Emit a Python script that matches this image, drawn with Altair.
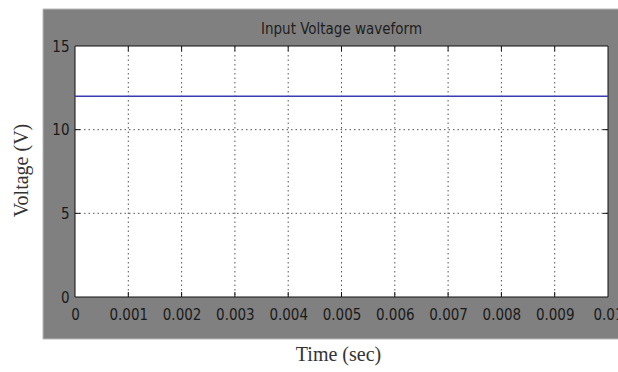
import altair as alt
import pandas as pd

# Waveform samples (constant DC input)
time_s = [0.0, 0.01]
voltage_v = [12, 12]

# Axis tick positions
time_ticks = [0, 0.001, 0.002, 0.003, 0.004, 0.005, 0.006, 0.007, 0.008, 0.009, 0.01]
volt_ticks = [0, 5, 10, 15]

W, H = 533, 251
LABEL_FONT = "Liberation Sans Narrow, DejaVu Sans Condensed, Liberation Sans"

line_df = pd.DataFrame({"t": time_s, "v": voltage_v})
xgrid_df = pd.DataFrame({"t": time_ticks[1:-1]})
ygrid_df = pd.DataFrame({"v": volt_ticks[1:-1]})
one = pd.DataFrame({"k": [0]})

x_scale = alt.Scale(domain=[0, 0.01], nice=False, zero=False)
y_scale = alt.Scale(domain=[0, 15], nice=False)

# grey figure panel behind the axes
panel = alt.Chart(one).mark_rect(
    fill="#808080", stroke="#b8b8b8", strokeWidth=1
).encode(
    x=alt.value(-32), x2=alt.value(560), y=alt.value(-37), y2=alt.value(293)
)

# white axes box
box = alt.Chart(one).mark_rect(
    fill="white", stroke="#111111", strokeWidth=1
).encode(
    x=alt.value(0), x2=alt.value(W), y=alt.value(0), y2=alt.value(H)
)

title = alt.Chart(one).mark_text(
    text="Input Voltage waveform", font=LABEL_FONT, fontSize=15,
    color="#1e1e1e", align="center", baseline="middle"
).encode(x=alt.value(W / 2), y=alt.value(-17))

x_axis = alt.Axis(
    values=time_ticks, format="~g", title="Time (sec)",
    domain=False, grid=False, ticks=False, tickSize=0,
    labelPadding=10, labelFont=LABEL_FONT, labelFontSize=15,
    labelColor="#1a1a1a", labelFlush=False, labelOverlap=False,
    titleFont="Liberation Serif", titleFontSize=20, titleFontWeight="normal",
    titleColor="#333333", titleX=263, titleY=57, titleBaseline="middle",
    titleAlign="center", zindex=1,
)
y_axis = alt.Axis(
    values=volt_ticks, title="Voltage (V)",
    domain=False, grid=False, ticks=False, tickSize=0,
    labelPadding=6, labelFont=LABEL_FONT, labelFontSize=15,
    labelColor="#1a1a1a", labelFlush=False, labelOverlap=False,
    titleFont="Liberation Serif", titleFontSize=20, titleFontWeight="normal",
    titleColor="#333333", titleX=-54, titleY=124, titleBaseline="middle",
    titleAlign="center", titleAngle=270, zindex=1,
)

X = alt.X("t:Q", scale=x_scale, axis=x_axis)
Y = alt.Y("v:Q", scale=y_scale, axis=y_axis)

grid_style = dict(color="#555555", strokeWidth=1, strokeDash=[1.5, 3])

xgrid = alt.Chart(xgrid_df).mark_rule(**grid_style).encode(
    x=X, y=alt.value(0), y2=alt.value(H)
)
ygrid = alt.Chart(ygrid_df).mark_rule(**grid_style).encode(
    y=Y, x=alt.value(0), x2=alt.value(W)
)

tick_style = dict(color="#111111", strokeWidth=1)
xtick_bot = alt.Chart(xgrid_df).mark_rule(**tick_style).encode(
    x=X, y=alt.value(H), y2=alt.value(H - 5)
)
xtick_top = alt.Chart(xgrid_df).mark_rule(**tick_style).encode(
    x=X, y=alt.value(0), y2=alt.value(5)
)
ytick_left = alt.Chart(ygrid_df).mark_rule(**tick_style).encode(
    y=Y, x=alt.value(0), x2=alt.value(5)
)
ytick_right = alt.Chart(ygrid_df).mark_rule(**tick_style).encode(
    y=Y, x=alt.value(W - 5), x2=alt.value(W)
)

line = alt.Chart(line_df).mark_line(color="#3b3bb5", strokeWidth=1.6).encode(x=X, y=Y)

chart = alt.layer(
    panel, box, xgrid, ygrid, line, xtick_bot, xtick_top, ytick_left, ytick_right, title
).properties(
    width=W, height=H,
    autosize=alt.AutoSizeParams(type="none"),
    padding={"left": 75, "top": 46, "right": 10, "bottom": 75},
    background="white",
).configure_view(stroke=None)

chart.save("out.html", embed_options={"renderer": "svg", "actions": False})
